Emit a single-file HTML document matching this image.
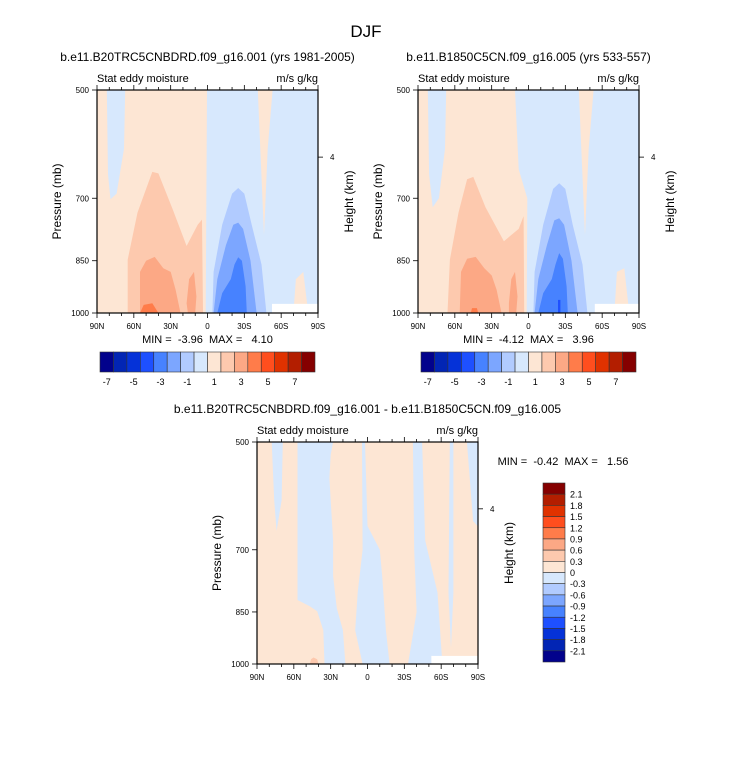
<!DOCTYPE html>
<html><head><meta charset="utf-8"><style>
body{margin:0;background:#fff;}
svg text{font-family:"Liberation Sans",sans-serif;fill:#000;white-space:pre;}
</style></head><body>
<svg id="fig" width="733" height="758" viewBox="0 0 733 758" xmlns="http://www.w3.org/2000/svg" xml:space="preserve">
<text x="366" y="37" font-size="17" text-anchor="middle">DJF</text>
</svg>
<script>
// ---- data ----
const latTicks = [90,60,30,0,-30,-60,-90];
const latTickLabels = ["90N","60N","30N","0","30S","60S","90S"];
const presTicks = [500,700,850,1000];
const levelsTop = [-7,-5,-3,-1,1,3,5,7];
const levelsDiff = ["2.1","1.8","1.5","1.2","0.9","0.6","0.3","0","-0.3","-0.6","-0.9","-1.2","-1.5","-1.8","-2.1"];
const colorsBlueRed = ["#02028c","#0225b4","#0532d8","#1e50ff","#4782ff","#7ca6ff","#b1cbff","#d7e8fd","#fde6d4","#fdc9ae","#fca885","#ff7c4a","#ff4e1e","#e03200","#b31e00","#850000"];
const PEACH="#fde6d4", LB="#d7e8fd";
// contour regions (lat, pressure) per panel: [colorIndex, polygon]
const panel1Regions = [
 [7,[[82,500],[67,500],[68,600],[74,690],[79,702],[81,650]]],
 [7,[[0.4,500],[-41,500],[-43,600],[-46,784],[-49,600],[-53,500],[-90,500],[-90,1000],[1.5,1000]]],
 [8,[[-72,900],[-78,880],[-82,1000],[-70,1000]]],
 [6,[[-4,1000],[-5,880],[-12,760],[-20,690],[-25,678],[-30,690],[-36,760],[-44,860],[-48,1000]]],
 [5,[[-5,1000],[-8,900],[-15,810],[-21,760],[-25,755],[-29,770],[-35,850],[-40,1000]]],
 [4,[[-8,1000],[-12,940],[-19,900],[-22,860],[-25,841],[-28,850],[-31,920],[-32,1000]]],
 [9,[[65,1000],[65,847],[57,732],[45,645],[40,648],[28,727],[17,812],[8,760],[4.5,748],[3.7,1000]]],
 [10,[[55,1000],[55,880],[50,850],[43,840],[36,870],[30,880],[26,930],[22,1000]]],
 [10,[[17,970],[15,900],[11,880],[9,950],[10,1000],[16,1000]]],
 [11,[[55,1000],[52,975],[45,970],[40,1000]]]
];
const panel2Regions = [
 [7,[[82,500],[67,500],[68,600],[73,700],[78,720],[81,650]]],
 [7,[[11,500],[-41,500],[-43,600],[-46,784],[-49,600],[-53,500],[-90,500],[-90,1000],[1.5,1000],[1,700],[8,640]]],
 [8,[[-72,880],[-78,870],[-82,1000],[-70,1000]]],
 [6,[[-4,1000],[-5,880],[-12,760],[-20,680],[-25,668],[-30,680],[-36,760],[-44,860],[-48,1000]]],
 [5,[[-5,1000],[-8,900],[-15,810],[-21,750],[-25,745],[-29,760],[-35,850],[-40,1000]]],
 [4,[[-8,1000],[-12,940],[-19,900],[-22,860],[-25,830],[-28,845],[-31,920],[-32,1000]]],
 [3,[[-24,1000],[-24,960],[-26,960],[-26,1000]]],
 [9,[[66,1000],[64,847],[57,732],[50,660],[45,655],[35,720],[20,800],[8,770],[4,740],[3.5,1000]]],
 [10,[[56,1000],[55,880],[50,845],[43,840],[36,870],[30,890],[26,930],[22,1000]]],
 [10,[[16,970],[14,900],[11,880],[9,950],[10,1000],[16,1000]]],
 [11,[[47,1000],[46,985],[42,985],[41,1000]]]
];
const panel3Regions = [
 [7,[[78,500],[69,500],[70,600],[74,660],[76,600]]],
 [7,[[57,500],[57,819],[47,835],[41,848],[36,900],[35,1000],[18,1000],[20,900],[25,840],[28,760],[28,680],[30,600],[31,560],[30,520],[28,500]]],
 [7,[[4.5,500],[2,500],[0,650],[-10,700],[-12,760],[-15,900],[-18,1000],[4,1000],[10,900],[8,800],[4,700]]],
 [7,[[-37,500],[-44.5,500],[-47,680],[-57,800],[-61,1000],[-33,1000],[-40,850],[-38,700]]],
 [7,[[-67,500],[-70,500],[-70,800],[-68,950],[-66,800]]],
 [7,[[-81,500],[-90,500],[-90,651],[-86,640]]],
 [9,[[47,1000],[46,985],[44,980],[41,985],[40,1000]]]
];
// ---- drawing ----
const svg=document.getElementById('fig');
const NS="http://www.w3.org/2000/svg";
function mk(tag,attrs,parent){const e=document.createElementNS(NS,tag);for(const k in attrs)e.setAttribute(k,attrs[k]);(parent||svg).appendChild(e);return e;}
function txt(x,y,s,size,anchor,parent,extra){const t=mk('text',Object.assign({x:x,y:y,'font-size':size,'text-anchor':anchor||'start'},extra||{}),parent);t.textContent=s;return t;}

function drawPanel(x0,y0,w,h,regions,name,title,minmax,missing){
  const g=mk('g',{});
  
  
  const xS=lat=>x0+(90-lat)/180*w;
  const yS=p=>y0+Math.log2(p/500)*h;
  mk('rect',{x:x0,y:y0,width:w,height:h,fill:PEACH},g);
  regions.forEach(r=>{
    const pl=mk('polygon',{points:r[1].map(q=>xS(q[0]).toFixed(1)+','+yS(q[1]).toFixed(1)).join(' '),fill:colorsBlueRed[r[0]]},g);
    
    
  });
  mk('rect',{x:xS(missing[0]),y:yS(missing[1]),width:xS(-90)-xS(missing[0]),height:yS(1000)-yS(missing[1]),fill:'#fff'},g);
  mk('rect',{x:x0,y:y0,width:w,height:h,fill:'none',stroke:'#000','stroke-width':1.2},g);
  for(let l=90;l>=-90;l-=10){const major=l%30===0;const x=xS(l);
    mk('line',{x1:x,x2:x,y1:y0+h,y2:y0+h+(major?5:3),stroke:'#000','stroke-width':0.8},g);
    mk('line',{x1:x,x2:x,y1:y0,y2:y0-(major?5:3),stroke:'#000','stroke-width':0.8},g);}
  latTicks.forEach((l,i)=>{const t=txt(xS(l),y0+h+16,latTickLabels[i],8,'middle',g);
    });
  presTicks.forEach(p=>{const y=yS(p);
    mk('line',{x1:x0-5,x2:x0,y1:y,y2:y,stroke:'#000','stroke-width':0.8},g);
    const t=txt(x0-8,y+3,String(p),8,'end',g);
    });
  const yh=yS(616);
  mk('line',{x1:x0+w,x2:x0+w+5,y1:yh,y2:yh,stroke:'#000','stroke-width':0.8},g);
  txt(x0+w+12,yh+3,'4',8,'start',g);
  const ya=txt(0,0,'Pressure (mb)',12,'middle',g,{transform:`translate(${x0-36},${y0+h/2}) rotate(-90)`});
  
  const yb=txt(0,0,'Height (km)',12,'middle',g,{transform:`translate(${x0+w+35},${y0+h/2}) rotate(-90)`});
  
  const ls=txt(x0,y0-8,'Stat eddy moisture',11,'start',g);
  
  const rs=txt(x0+w,y0-8,'m/s g/kg',11,'end',g);
  
  const tt=txt(x0+w/2,y0-29,title,12,'middle',g);
  
  if(minmax){const m=txt(x0+w/2,y0+h+30,minmax,11,'middle',g);}
}
function hbar(x0,y0,w,h,name){
  const g=mk('g',{});
  const cw=w/colorsBlueRed.length;
  colorsBlueRed.forEach((c,i)=>{const r=mk('rect',{x:x0+i*cw,y:y0,width:cw,height:h,fill:c,stroke:'#333','stroke-width':0.6},g);
    });
  levelsTop.forEach((v,i)=>{const t=txt(x0+cw*(2*i+0.5),y0+h+13,String(v),9,'middle',g);
    });
}
function vbar(x0,y0,w,h,name){
  const g=mk('g',{});
  const n=colorsBlueRed.length,ch=h/n;
  for(let i=0;i<n;i++){const r=mk('rect',{x:x0,y:y0+i*ch,width:w,height:ch,fill:colorsBlueRed[n-1-i],stroke:'#333','stroke-width':0.6},g);
    }
  levelsDiff.forEach((v,i)=>{const t=txt(x0+w+5,y0+(i+1)*ch+3.5,v,9,'start',g);
    });
}
drawPanel(97,90,221,223,panel1Regions,'panel-b20trc','b.e11.B20TRC5CNBDRD.f09_g16.001 (yrs 1981-2005)','MIN =  -3.96  MAX =   4.10',[-52.5,972]);
drawPanel(418,90,221,223,panel2Regions,'panel-b1850','b.e11.B1850C5CN.f09_g16.005 (yrs 533-557)','MIN =  -4.12  MAX =   3.96',[-54,972]);
drawPanel(257,442,221,222,panel3Regions,'panel-difference','b.e11.B20TRC5CNBDRD.f09_g16.001 - b.e11.B1850C5CN.f09_g16.005',null,[-52,975]);
hbar(100,352,215,20,'colorbar-left');
hbar(421,352,215,20,'colorbar-right');
vbar(543,483,22,179,'colorbar-difference');
const mm=txt(563,465,'MIN =  -0.42  MAX =   1.56',11,'middle');


</script>
</body></html>
